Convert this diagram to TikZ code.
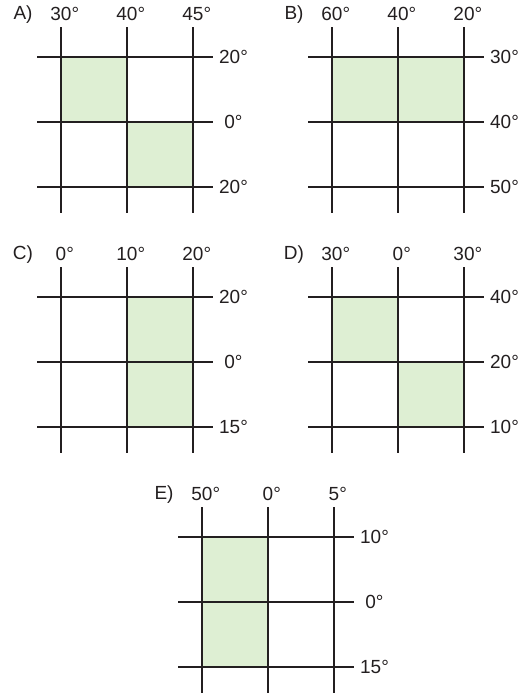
\documentclass[tikz,border=0pt]{standalone}
\usepackage{fontspec}
\setmainfont{Liberation Sans}

\definecolor{cellgreen}{RGB}{222,239,211}
\definecolor{inkgray}{RGB}{35,31,32}

% one panel: #1 letter, #2 top labels, #3 right labels, #4 shaded cells (col/row)
\newcommand{\gridpanel}[4]{%
  \foreach \c/\r in {#4} {
    \fill[cell] (\c*66,\r*65) rectangle ++(66,65);
  }
  \foreach \lab [count=\i from 0] in {#2} {
    \draw[gridline] (\i*66,-30) -- (\i*66,156);
    \node[toplabel] (#1-top-\i) at (\i*66,-43.5) {\lab\rlap{°}};
  }
  \foreach \lab [count=\j from 0] in {#3} {
    \draw[gridline] (-24,\j*65) -- (152,\j*65);
    \node[sidelabel] (#1-side-\j) at (172.5,\j*65) {\lab°};
  }
  \node[panellabel] (#1-name) at (-38,-42) {#1)};
}

\begin{document}
\begin{tikzpicture}[
    x=1pt, y=-1pt,
    cell/.style={fill=cellgreen},
    gridline/.style={draw=inkgray, line width=2pt},
    toplabel/.style={text=inkgray, inner sep=0pt, font=\fontsize{19}{21}\selectfont},
    sidelabel/.style={text=inkgray, inner sep=0pt, font=\fontsize{19}{21}\selectfont},
    panellabel/.style={text=inkgray, inner sep=0pt, font=\fontsize{19}{21}\selectfont}
]
\useasboundingbox (0,0) rectangle (525,697);

% Panel A
\begin{scope}[shift={(61,57)}]
  \gridpanel{A}{30,40,45}{20,0,20}{0/0,1/1}
\end{scope}

% Panel B
\begin{scope}[shift={(332,57)}]
  \gridpanel{B}{60,40,20}{30,40,50}{0/0,1/0}
\end{scope}

% Panel C
\begin{scope}[shift={(61,297)}]
  \gridpanel{C}{0,10,20}{20,0,15}{1/0,1/1}
\end{scope}

% Panel D
\begin{scope}[shift={(332,297)}]
  \gridpanel{D}{30,0,30}{40,20,10}{0/0,1/1}
\end{scope}

% Panel E
\begin{scope}[shift={(202,537)}]
  \gridpanel{E}{50,0,5}{10,0,15}{0/0,0/1}
\end{scope}

\end{tikzpicture}
\end{document}
